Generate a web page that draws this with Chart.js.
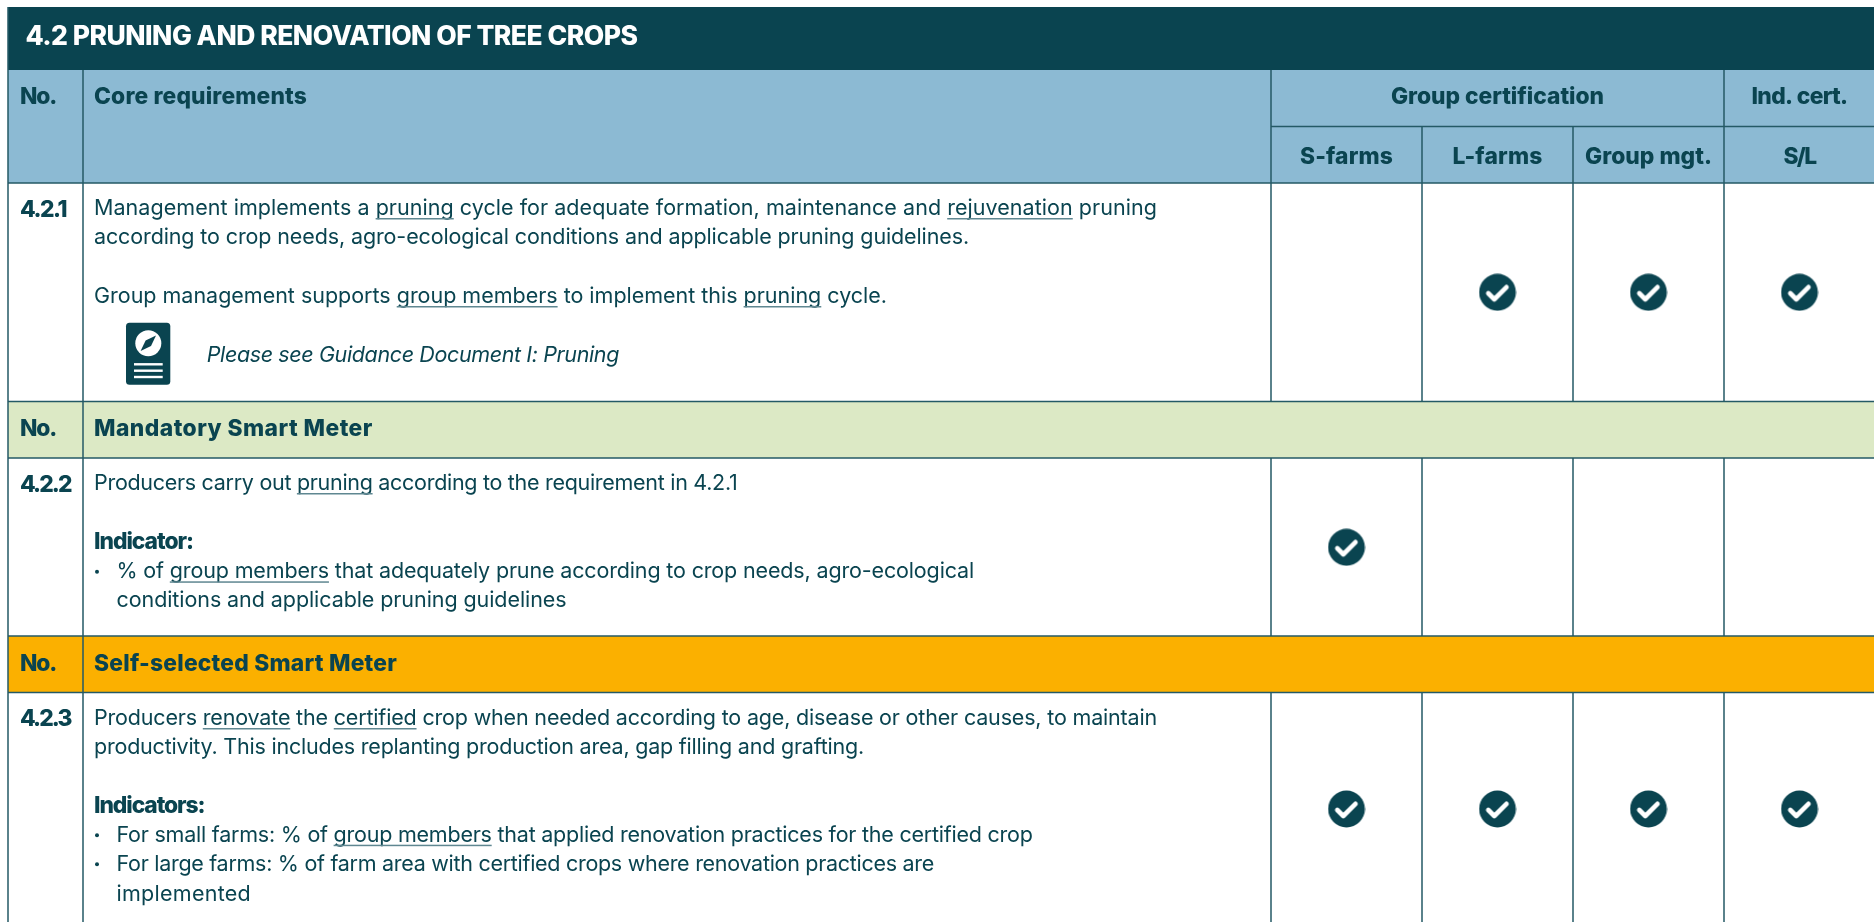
<!DOCTYPE html>
<html>
<head>
<meta charset="utf-8">
<title>4.2 Pruning and renovation of tree crops</title>
<script src="https://cdn.jsdelivr.net/npm/chart.js@4"></script>
<style>
    html, body { margin: 0; padding: 0; background: #fff; overflow: hidden; }
    canvas { display: block; }
</style>
</head>
<body>
<canvas id="table" width="1874" height="922"></canvas>
<script>
// Table content
const titleText = '4.2 PRUNING AND RENOVATION OF TREE CROPS';
const noLabel = 'No.';
const coreLabel = 'Core requirements';
const groupLabel = 'Group certification';
const indLabel = 'Ind. cert.';
const mandatoryLabel = 'Mandatory Smart Meter';
const selfLabel = 'Self-selected Smart Meter';
const checkColumns = ['S-farms', 'L-farms', 'Group mgt.', 'S/L'];
const rowNumbers = ['4.2.1', '4.2.2', '4.2.3'];

// 1 = check mark in that row
const sFarms = [0, 1, 1];
const lFarms = [1, 0, 1];
const groupMgt = [1, 0, 1];
const singleLarge = [1, 0, 1];

// _word_ means underlined, *line* means bold
const row1Lines = [
    'Management implements a _pruning_ cycle for adequate formation, maintenance and _rejuvenation_ pruning',
    'according to crop needs, agro-ecological conditions and applicable pruning guidelines.',
    'Group management supports _group members_ to implement this _pruning_ cycle.',
];
const guidanceLine = 'Please see Guidance Document I: Pruning';
const row2Lines = [
    'Producers carry out _pruning_ according to the requirement in 4.2.1',
    '*Indicator:*',
    '• % of _group members_ that adequately prune according to crop needs, agro-ecological',
    '   conditions and applicable pruning guidelines',
];
const row3Lines = [
    'Producers _renovate_ the _certified_ crop when needed according to age, disease or other causes, to maintain',
    'productivity. This includes replanting production area, gap filling and grafting.',
    '*Indicators:*',
    '• For small farms: % of _group members_ that applied renovation practices for the certified crop',
    '• For large farms: % of farm area with certified crops where renovation practices are',
    '   implemented',
];

// Layout, in page pixels
const colEdges = [8, 83, 1271, 1422, 1573, 1724, 1875];
const rowEdges = { top: 7, title: 70, headSplit: 126.5, head: 183, row1: 401.5, mandatory: 458, row2: 636, self: 692.5, row3: 926 };
const rowCentres = [292.3, 547.3, 809];
const row1Baselines = [215, 244.3, 303];
const row2Baselines = [490, 549, 578.3, 607.3];
const row3Baselines = [725, 754.3, 812.7, 841.7, 870.7, 900.7];
const numberBaselines = [217.3, 492.3, 726];

// Right end of each text line, the font is fitted to these
const row1Ends = [1157, 969, 887];
const row2Ends = [737.4, 193, 974, 566.5];
const row3Ends = [1157, 864, 204.5, 1032.6, 934, 251];
const numberWidths = [46, 50.5, 50.5];
const columnLabelWidths = [93, 90, 127, 32];

const DARK = '#0a4450';
const LINE = '#245a66';
const UNDER = '#5f8791';
const BLUE = '#8cbad3';
const GREEN = '#dce9c5';
const ORANGE = '#fbb000';

const fontFamily = 'Inter, "Noto Sans", sans-serif';
const FONT_BODY = '400 21.5px ' + fontFamily;
const FONT_ITALIC = 'italic 400 21.5px ' + fontFamily;
const FONT_BOLD = '800 22.8px ' + fontFamily;
const FONT_TITLE = '800 26.5px ' + fontFamily;

// Check mark used as point style
function makeCheckIcon() {
    const c = document.createElement('canvas');
    c.width = 38;
    c.height = 38;
    const g = c.getContext('2d');
    g.fillStyle = DARK;
    g.beginPath();
    g.arc(19, 19, 18.4, 0, Math.PI * 2);
    g.fill();
    g.strokeStyle = '#fff';
    g.lineWidth = 4.6;
    g.lineCap = 'round';
    g.lineJoin = 'round';
    g.beginPath();
    g.moveTo(9.8, 20);
    g.lineTo(15.8, 26);
    g.lineTo(28, 13.8);
    g.stroke();
    return c;
}
const checkIcon = makeCheckIcon();

function columnCentre(i) {
    return (colEdges[i + 2] + colEdges[i + 3]) / 2;
}

function checkPoints(flags, col) {
    const pts = [];
    flags.forEach((f, r) => {
        if (f) pts.push({ x: columnCentre(col), y: rowCentres[r] });
    });
    return pts;
}

// Sets font and the letter spacing that gives text the wanted width
function fitFont(ctx, font, text, width) {
    ctx.font = font;
    ctx.letterSpacing = '0px';
    const extra = (width - ctx.measureText(text).width) / text.length;
    ctx.letterSpacing = extra.toFixed(3) + 'px';
}

// Draws a line with _underlined_ parts
function drawRuns(ctx, text, x, y, end) {
    let font = FONT_BODY;
    if (text.startsWith('*')) {
        font = FONT_BOLD;
        text = text.replace(/\*/g, '');
    }
    fitFont(ctx, font, text.replace(/_/g, ''), end - x);
    ctx.textAlign = 'left';
    ctx.textBaseline = 'alphabetic';
    let px = x;
    text.split('_').forEach((part, i) => {
        const w = ctx.measureText(part).width;
        ctx.fillStyle = DARK;
        ctx.fillText(part, px, y);
        if (i % 2 === 1) {
            ctx.fillStyle = UNDER;
            ctx.fillRect(px, y + 3, w, 1.5);
        }
        px += w;
    });
}

// Bullet lines: bullet and text have separate positions
function drawBodyLine(ctx, text, y, end) {
    const X = 94, BULLET = 97, INDENT = 116.5;
    if (text.startsWith('• ')) {
        ctx.fillStyle = DARK;
        ctx.beginPath();
        ctx.arc(BULLET, y - 6.5, 2, 0, Math.PI * 2);
        ctx.fill();
        drawRuns(ctx, text.slice(2), INDENT, y, end);
    } else if (text.startsWith('   ')) {
        drawRuns(ctx, text.trim(), INDENT, y, end);
    } else {
        drawRuns(ctx, text, X, y, end);
    }
}

const tablePlugin = {
    id: 'tablePlugin',
    beforeDatasetsDraw(chart) {
        const ctx = chart.ctx;
        const sx = chart.scales.x;
        const sy = chart.scales.y;
        const X = v => sx.getPixelForValue(v);
        const Y = v => sy.getPixelForValue(v);
        const R = rowEdges;
        const left = colEdges[0], right = colEdges[6];

        function band(y0, y1, col) {
            ctx.fillStyle = col;
            ctx.fillRect(X(left), Y(y0), X(right) - X(left), Y(y1) - Y(y0));
        }
        function hLine(x0, x1, y, w) {
            ctx.fillStyle = LINE;
            ctx.fillRect(X(x0), Y(y) - w / 2, X(x1) - X(x0), w);
        }
        function vLine(x, y0, y1, w) {
            ctx.fillStyle = LINE;
            ctx.fillRect(X(x) - w / 2, Y(y0), w, Y(y1) - Y(y0));
        }
        // x is the left end of the text
        function label(text, x, y, font, width, color) {
            fitFont(ctx, font, text, width);
            ctx.fillStyle = color || DARK;
            ctx.textAlign = 'left';
            ctx.textBaseline = 'alphabetic';
            ctx.fillText(text, X(x), Y(y));
        }
        function centred(text, cx, y, width) {
            label(text, cx - width / 2, y, FONT_BOLD, width);
        }

        ctx.save();
        band(R.top, R.title, DARK);
        band(R.title, R.head, BLUE);
        band(R.row1, R.mandatory, GREEN);
        band(R.row2, R.self, ORANGE);

        // horizontal rules
        hLine(left, right, R.head, 1.5);
        hLine(colEdges[2], right, R.headSplit, 1.5);
        hLine(left, right, R.row1, 1.5);
        hLine(left, right, R.mandatory, 1.5);
        hLine(left, right, R.row2, 1.5);
        hLine(left, right, R.self, 1.5);

        // vertical rules
        vLine(left, R.top, R.row3, 1.5);
        vLine(colEdges[1], R.title, R.row3, 1.5);
        vLine(colEdges[2], R.title, R.head, 1.5);
        vLine(colEdges[5], R.title, R.head, 1.5);
        vLine(colEdges[3], R.headSplit, R.head, 1.5);
        vLine(colEdges[4], R.headSplit, R.head, 1.5);
        [R.head, R.mandatory, R.self].forEach((y0, i) => {
            const y1 = [R.row1, R.row2, R.row3][i];
            for (let c = 2; c <= 5; c++) vLine(colEdges[c], y0, y1, 1.5);
        });

        // title and headers
        label(titleText, 25.4, 45, FONT_TITLE, 612, '#fff');
        label(noLabel, 20, 104, FONT_BOLD, 36);
        label(coreLabel, 94, 104, FONT_BOLD, 213);
        centred(groupLabel, (colEdges[2] + colEdges[5]) / 2, 104, 213);
        centred(indLabel, columnCentre(3), 104, 96);
        checkColumns.forEach((c, i) => centred(c, columnCentre(i), 164, columnLabelWidths[i]));
        label(noLabel, 20, 435.7, FONT_BOLD, 36);
        label(mandatoryLabel, 94, 435.7, FONT_BOLD, 278.8);
        label(noLabel, 20, 670.7, FONT_BOLD, 36);
        label(selfLabel, 94, 670.7, FONT_BOLD, 303);
        rowNumbers.forEach((n, i) => label(n, 20, numberBaselines[i], FONT_BOLD, numberWidths[i]));

        // body text
        row1Lines.forEach((t, i) => drawBodyLine(ctx, t, Y(row1Baselines[i]), row1Ends[i]));
        row2Lines.forEach((t, i) => drawBodyLine(ctx, t, Y(row2Baselines[i]), row2Ends[i]));
        row3Lines.forEach((t, i) => drawBodyLine(ctx, t, Y(row3Baselines[i]), row3Ends[i]));
        label(guidanceLine, 206.7, 361.7, FONT_ITALIC, 412.3);
        ctx.letterSpacing = '0px';

        // guidance icon
        ctx.fillStyle = DARK;
        ctx.beginPath();
        ctx.roundRect(X(126), Y(322.7), 44.3, 62, 3.5);
        ctx.fill();
        ctx.fillStyle = '#fff';
        ctx.beginPath();
        ctx.arc(X(148.3), Y(343.3), 13, 0, Math.PI * 2);
        ctx.fill();
        [364.3, 370.7, 377].forEach(y => ctx.fillRect(X(134), Y(y) - 1.2, 28.7, 2.4));
        ctx.fillStyle = DARK;
        ctx.beginPath();
        ctx.moveTo(X(156), Y(335.5));
        ctx.lineTo(X(151), Y(346));
        ctx.lineTo(X(140.6), Y(351));
        ctx.lineTo(X(145.6), Y(340.5));
        ctx.closePath();
        ctx.fill();
        ctx.restore();
    },
};

new Chart(document.getElementById('table').getContext('2d'), {
    type: 'scatter',
    data: {
        datasets: [sFarms, lFarms, groupMgt, singleLarge].map((flags, i) => ({
            label: checkColumns[i],
            data: checkPoints(flags, i),
            pointStyle: checkIcon,
        })),
    },
    options: {
        responsive: false,
        animation: false,
        layout: { padding: 0, autoPadding: false },
        plugins: { legend: { display: false }, tooltip: { enabled: false } },
        scales: {
            x: { type: 'linear', display: false, min: 0, max: 1874 },
            y: { type: 'linear', display: false, min: 0, max: 922, reverse: true },
        },
    },
    plugins: [tablePlugin],
});
</script>
</body>
</html>
